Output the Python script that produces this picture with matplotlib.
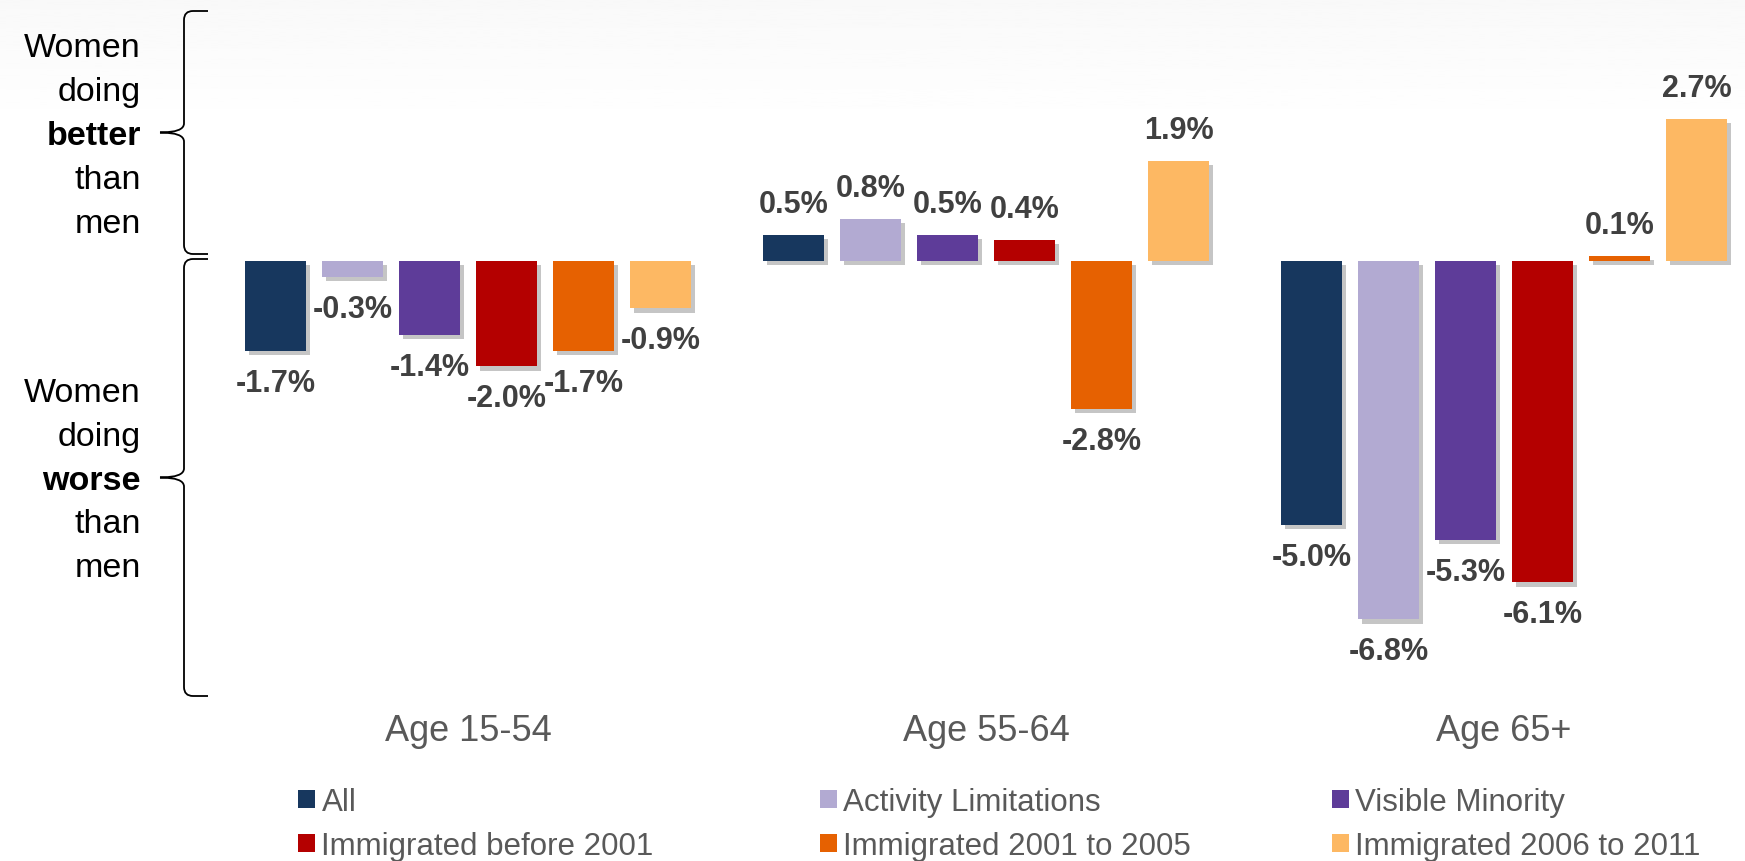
import numpy as np
import matplotlib
matplotlib.use('Agg')
import matplotlib.pyplot as plt
import matplotlib.patheffects as pe
from matplotlib.path import Path
from matplotlib.patches import PathPatch, Patch

plt.rcParams['font.family'] = ['Liberation Sans', 'DejaVu Sans']

# data
groups = ['Age 15-54', 'Age 55-64', 'Age 65+']
series = ['All', 'Activity Limitations', 'Visible Minority',
          'Immigrated before 2001', 'Immigrated 2001 to 2005', 'Immigrated 2006 to 2011']
all_people = [-1.7, 0.5, -5.0]
activity_lim = [-0.3, 0.8, -6.8]
visible_min = [-1.4, 0.5, -5.3]
imm_pre_2001 = [-2.0, 0.4, -6.1]
imm_2001_2005 = [-1.7, -2.8, 0.1]
imm_2006_2011 = [-0.9, 1.9, 2.7]
values = [all_people, activity_lim, visible_min, imm_pre_2001, imm_2001_2005, imm_2006_2011]
colors = ['#17375E', '#B2AAD2', '#5E3C99', '#B40000', '#E66101', '#FDB863']

W, H = 1745, 862
fig = plt.figure(figsize=(W / 100, H / 100), dpi=100)

# overlay in pixel coordinates for background, braces and side text
ov = fig.add_axes([0, 0, 1, 1], zorder=0)
ov.set_xlim(0, W)
ov.set_ylim(H, 0)
ov.axis('off')
grad = np.linspace(0.975, 1.0, 100).reshape(-1, 1)
ov.imshow(grad, extent=(0, W, 130, 0), cmap='gray', vmin=0, vmax=1, aspect='auto')


def brace(ax, x, y0, y1, w=24, r=9):
    ym = (y0 + y1) / 2
    verts = [(x + w, y0), (x + r, y0), (x, y0), (x, y0 + r),
             (x, ym - r), (x, ym), (x - w, ym),
             (x, ym), (x, ym + r),
             (x, y1 - r), (x, y1), (x + r, y1), (x + w, y1)]
    codes = [Path.MOVETO, Path.LINETO, Path.CURVE3, Path.CURVE3,
             Path.LINETO, Path.CURVE3, Path.CURVE3,
             Path.CURVE3, Path.CURVE3,
             Path.LINETO, Path.CURVE3, Path.CURVE3, Path.LINETO]
    ax.add_patch(PathPatch(Path(verts, codes), fill=False, lw=1.3, ec='black'))


brace(ov, 184, 12, 255)
brace(ov, 184, 260, 697)

better = ['Women', 'doing', 'better', 'than', 'men']
worse = ['Women', 'doing', 'worse', 'than', 'men']
for k, word in enumerate(better):
    ov.text(141, 57 + 44 * k, word, ha='right', va='baseline', fontsize=24.5,
            fontweight='bold' if k == 2 else 'normal', color='black')
for k, word in enumerate(worse):
    ov.text(141, 402 + 43.8 * k, word, ha='right', va='baseline', fontsize=24.5,
            fontweight='bold' if k == 2 else 'normal', color='black')

# main chart
ax_left, ax_right, ax_top, ax_bot = 200, W, 40, 700
ax = fig.add_axes([ax_left / W, (H - ax_bot) / H, (ax_right - ax_left) / W, (ax_bot - ax_top) / H], zorder=1)
ax.patch.set_alpha(0)
unit = 518.0
ppu = 52.7
ax.set_xlim(-(468 - ax_left) / unit, 2 + (ax_right - 1504) / unit)
ax.set_ylim(-(ax_bot - 262) / ppu, (262 - ax_top) / ppu)

x = np.arange(len(groups))
step = 77 / unit
width = 61 / unit
shadow = [pe.SimplePatchShadow(offset=(3, -3), shadow_rgbFace='#7f7f7f', alpha=0.45), pe.Normal()]
for i, (vals, c) in enumerate(zip(values, colors)):
    xs = x + (i - 2.5) * step
    bars = ax.bar(xs, vals, width, color=c, label=series[i], zorder=2)
    for b in bars:
        b.set_path_effects(shadow)
    for xi, v in zip(xs, vals):
        ax.annotate('%.1f%%' % v, (xi, v), xytext=(0, 31 if v > 0 else -32),
                    textcoords='offset pixels', ha='center', va='center',
                    fontsize=22, fontweight='bold', color='#404040', zorder=3)

ax.set_xticks(x, groups)
ax.tick_params(axis='x', length=0, pad=10, labelsize=26, labelcolor='#595959')
ax.set_yticks([])
for s in ax.spines.values():
    s.set_visible(False)

# legend, row-major in three columns
handles = [Patch(facecolor=c) for c in colors]
col_x = [298, 820, 1332]
for j in range(3):
    fig.legend([handles[j], handles[j + 3]], [series[j], series[j + 3]],
               loc='center left', bbox_to_anchor=(col_x[j] / W, (H - 825) / H),
               frameon=False, fontsize=22.5, labelcolor='#595959',
               handlelength=0.55, handleheight=0.55, handletextpad=0.2,
               labelspacing=0.45, borderpad=0, borderaxespad=0)

fig.savefig('out.png', dpi=100)
